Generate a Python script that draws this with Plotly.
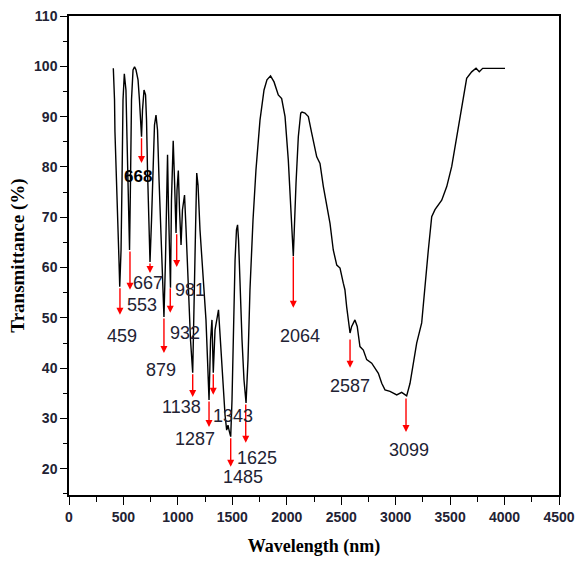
import plotly.graph_objects as go

# ---- spectrum ----
wavelength = [407, 418, 422, 438, 445, 459, 466, 478, 487, 496, 508, 523, 533, 542, 556,
              565, 574, 588, 602, 615, 634, 647, 657, 666, 675, 689, 703, 712, 721, 730, 744,
              758, 771, 785, 799, 813, 827, 845, 859, 872, 886, 895, 905, 914, 923, 932,
              941, 950, 957, 969, 983, 992, 1004, 1015, 1029, 1042, 1061, 1075, 1088, 1102,
              1116, 1136, 1148, 1162, 1173, 1185, 1203, 1221, 1240, 1258, 1272, 1286, 1300,
              1313, 1325, 1341, 1373, 1391, 1410, 1433, 1448, 1460, 1474, 1485, 1497, 1511,
              1525, 1538, 1548, 1557, 1570, 1589, 1607, 1626, 1644, 1662, 1690, 1717, 1754,
              1791, 1818, 1851, 1883, 1922, 1953, 1984, 2014, 2045, 2060, 2085, 2106, 2128,
              2140, 2167, 2198, 2229, 2275, 2305, 2336, 2397, 2427, 2459, 2489, 2519, 2534,
              2550, 2581, 2596, 2626, 2647, 2672, 2703, 2734, 2780, 2810, 2841, 2872, 2902,
              2948, 3010, 3055, 3101, 3132, 3162, 3193, 3239, 3269, 3300, 3331, 3361, 3423,
              3469, 3515, 3561, 3607, 3652, 3698, 3738, 3768, 3799, 3928, 4004]
transmittance = [99.6, 93.3, 87.0, 77.4, 71.0, 61.5, 56.2, 63.5, 77.4, 93.3, 98.5, 95.3, 85.4, 73.4, 63.5,
                 77.4, 93.3, 99.3, 99.9, 99.3, 97.3, 93.3, 89.3, 86.0, 91.3, 95.3, 94.3, 89.3, 79.4, 69.5, 61.1,
                 69.5, 81.4, 88.3, 90.3, 87.3, 77.4, 65.5, 55.6, 50.2, 61.5, 75.4, 82.4, 71.5, 61.5, 56.0,
                 73.4, 83.4, 85.2, 77.4, 66.9, 75.4, 79.3, 71.5, 64.5, 71.5, 74.4, 67.5, 59.5, 53.6,
                 45.6, 39.1, 49.6, 67.5, 78.8, 76.4, 67.5, 61.5, 56.6, 49.6, 41.7, 33.7, 45.6,
                 49.6, 39.1, 47.6, 51.6, 45.6, 37.7, 30.7, 27.7, 28.7, 27.3, 26.4, 33.7, 47.6,
                 61.5, 67.5, 68.5, 65.5, 55.6, 45.6, 37.7, 33.1, 41.7, 55.6, 69.5, 79.4, 89.3,
                 95.3, 97.3, 98.1, 96.9, 94.3, 93.6, 90.0, 81.4, 70.1, 62.3, 76.8, 86.0, 90.7,
                 90.9, 90.7, 90.0, 86.7, 82.0, 80.7, 76.1, 68.8, 63.5, 60.5, 59.9, 56.9, 55.6,
                 52.2, 47.0, 48.3, 49.6, 48.3, 44.3, 43.6, 41.7, 41.0, 40.0, 39.0, 37.0, 35.7,
                 35.4, 34.7, 35.2, 34.5, 37.0, 41.0, 45.0, 49.0, 56.9, 63.5, 70.1, 71.5, 73.4,
                 76.1, 80.1, 86.0, 92.6, 97.6, 98.9, 99.6, 98.9, 99.6, 99.6, 99.6]

# ---- peak annotations ----
peak_labels = ["459", "553", "668", "667", "981", "932", "879", "1138", "1287", "1343",
               "1485", "1625", "2064", "2587", "3099"]
arrow_x = [468, 560, 666, 744, 989, 930, 872, 1136, 1286, 1325, 1485, 1623, 2060, 2581, 3095]
arrow_top = [56.2, 63.5, 86.0, 61.1, 66.9, 56.2, 50.2, 39.1, 33.7, 39.1, 26.4, 33.1, 62.5, 46.0, 34.3]
arrow_tip = [50.6, 55.6, 80.8, 58.9, 60.1, 51.0, 43.0, 34.3, 28.3, 34.7, 20.4, 25.2, 52.0, 40.1, 27.3]
label_x = [487, 670, 634, 726, 1111, 1065, 842, 1035, 1157, 1506, 1598, 1724, 2121, 2581, 3123]
label_y = [46.4, 52.6, 78.2, 57.0, 55.6, 47.0, 39.7, 32.3, 26.0, 30.5, 18.4, 22.2, 46.4, 36.5, 23.8]
label_bold = [False, False, True, False, False, False, False, False, False, False,
              False, False, False, False, False]

x_ticks = [0, 500, 1000, 1500, 2000, 2500, 3000, 3500, 4000, 4500]
y_ticks = [20, 30, 40, 50, 60, 70, 80, 90, 100, 110]

fig = go.Figure()
fig.add_trace(go.Scatter(x=wavelength, y=transmittance, mode="lines",
                         line=dict(color="black", width=1.4), showlegend=False,
                         hoverinfo="skip"))

annotations = []
for xa, yt, yh in zip(arrow_x, arrow_top, arrow_tip):
    annotations.append(dict(x=xa, y=yh, ax=xa, ay=yt, xref="x", yref="y",
                            axref="x", ayref="y", text="", showarrow=True,
                            arrowhead=2, arrowsize=1, arrowwidth=1.4,
                            arrowcolor="red"))
for lx, ly, txt, b in zip(label_x, label_y, peak_labels, label_bold):
    annotations.append(dict(x=lx, y=ly, xref="x", yref="y", text=f"<b>{txt}</b>" if b else txt,
                            showarrow=False,
                            font=dict(family="Liberation Sans, Arial", size=17 if b else 18,
                                      color="black" if b else "#222233")))

fig.update_layout(
    width=576, height=568,
    margin=dict(l=69, r=17, t=16, b=73),
    paper_bgcolor="white", plot_bgcolor="white",
    annotations=annotations,
    xaxis=dict(range=[0, 4500], tickvals=x_ticks, ticks="outside", ticklen=8,
               tickwidth=1.3, tickcolor="black", showline=True, linecolor="black",
               linewidth=1.5, mirror=True, showgrid=False, zeroline=False,
               automargin=False,
               minor=dict(dtick=250, ticks="outside", ticklen=5, tickwidth=1.3,
                          tickcolor="black", showgrid=False),
               tickfont=dict(family="Liberation Sans, Arial", size=14, color="#222233",
                             weight="bold"),
               title=dict(text="<b>Wavelength (nm)</b>", standoff=16,
                          font=dict(family="Liberation Serif, Times New Roman", size=18,
                                    color="black"))),
    yaxis=dict(range=[14.8, 110], tickvals=y_ticks, ticks="outside", ticklen=7,
               tickwidth=1.3, tickcolor="black", showline=True, linecolor="black",
               linewidth=1.5, mirror=True, showgrid=False, zeroline=False,
               automargin=False,
               minor=dict(dtick=5, ticks="outside", ticklen=4, tickwidth=1.3,
                          tickcolor="black", showgrid=False),
               tickfont=dict(family="Liberation Sans, Arial", size=14, color="#222233",
                             weight="bold"),
               title=dict(text="<b>Transmittance (%)</b>", standoff=4,
                          font=dict(family="Liberation Serif, Times New Roman", size=19,
                                    color="black"))),
)

fig.write_html("out.html")
